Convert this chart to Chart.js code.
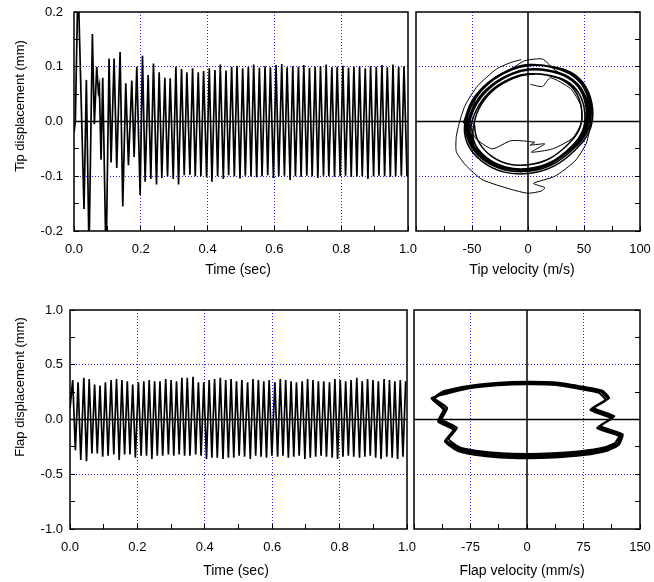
<!DOCTYPE html>
<html>
<head>
<meta charset="utf-8">
<script src="https://cdn.jsdelivr.net/npm/chart.js@4.4.0/dist/chart.umd.min.js"></script>
<style>
  html, body { margin: 0; padding: 0; background: #fff; }
  #wrap { position: relative; width: 654px; height: 582px; }
  #wrap canvas { position: absolute; left: 0; top: 0; }
</style>
</head>
<body>
<div id="wrap">
  <canvas id="tipTimeChart" width="654" height="582"></canvas>
  <canvas id="tipPhaseChart" width="654" height="582"></canvas>
  <canvas id="flapTimeChart" width="654" height="582"></canvas>
  <canvas id="flapPhaseChart" width="654" height="582"></canvas>
</div>
<script>
// tick labels (every second tick is labelled)
const timeTicks = ['0.0', '0.2', '0.4', '0.6', '0.8', '1.0'];
const tipDispTicks = ['-0.2', '-0.1', '0.0', '0.1', '0.2'];
const tipVelTicks = ['', '-50', '0', '50', '100'];
const flapDispTicks = ['-1.0', '-0.5', '0.0', '0.5', '1.0'];
const flapVelTicks = ['', '-75', '0', '75', '150'];

// tip displacement vs time (peaks / troughs)
const tipTime = [
  0.000, 0.004, 0.012, 0.030, 0.037, 0.045, 0.055, 0.061, 0.068, 0.073,
  0.076, 0.081, 0.086, 0.096, 0.105, 0.111, 0.120, 0.128, 0.138, 0.146,
  0.155, 0.163, 0.173, 0.180, 0.188, 0.198,
  0.205, 0.213, 0.222, 0.230, 0.238, 0.247, 0.255, 0.263, 0.272, 0.280,
  0.288, 0.297, 0.305, 0.313, 0.322, 0.330, 0.338, 0.347, 0.355, 0.363,
  0.372, 0.380, 0.388, 0.397, 0.405, 0.413, 0.422, 0.430, 0.438, 0.447,
  0.455, 0.463, 0.472, 0.480, 0.488, 0.497, 0.505, 0.513, 0.522, 0.530,
  0.538, 0.547, 0.555, 0.563, 0.572, 0.580, 0.588, 0.597, 0.605, 0.613,
  0.622, 0.630, 0.638, 0.647, 0.655, 0.663, 0.672, 0.680, 0.688, 0.697,
  0.705, 0.713, 0.722, 0.730, 0.738, 0.747, 0.755, 0.763, 0.772, 0.780,
  0.788, 0.797, 0.805, 0.813, 0.822, 0.830, 0.838, 0.847, 0.855, 0.863,
  0.872, 0.880, 0.888, 0.897, 0.905, 0.913, 0.922, 0.930, 0.938, 0.947,
  0.955, 0.963, 0.972, 0.980, 0.988, 0.997
];
const tipDisp = [
  -0.02, 0.00, 0.26, -0.16, 0.076, -0.24, 0.16, -0.005, 0.10, 0.055,
  0.065, -0.07, 0.08, -0.26, 0.115, -0.075, 0.115, -0.085, 0.127, -0.155,
  0.07, -0.08, 0.075, -0.065, 0.10, -0.134,
  0.120, -0.110, 0.085, -0.105, 0.106, -0.115, 0.090, -0.103, 0.080, -0.100,
  0.079, -0.105, 0.100, -0.115, 0.096, -0.098, 0.090, -0.097, 0.097, -0.100,
  0.090, -0.100, 0.092, -0.102, 0.097, -0.110, 0.094, -0.100, 0.104, -0.105,
  0.093, -0.098, 0.100, -0.100, 0.102, -0.104, 0.097, -0.099, 0.100, -0.100,
  0.104, -0.102, 0.098, -0.100, 0.101, -0.098, 0.099, -0.103, 0.103, -0.100,
  0.105, -0.099, 0.099, -0.107, 0.101, -0.100, 0.100, -0.101, 0.103, -0.099,
  0.098, -0.100, 0.100, -0.103, 0.101, -0.099, 0.104, -0.100, 0.099, -0.101,
  0.100, -0.100, 0.102, -0.099, 0.098, -0.101, 0.100, -0.100, 0.101, -0.100,
  0.097, -0.105, 0.101, -0.100, 0.100, -0.099, 0.103, -0.100, 0.099, -0.101,
  0.104, -0.100, 0.100, -0.099, 0.101, -0.100
];

// flap displacement vs time
const flapTime = [
  0.000, 0.008, 0.016, 0.024, 0.032, 0.041, 0.049, 0.057, 0.065, 0.073,
  0.081, 0.089, 0.097, 0.105, 0.113, 0.122, 0.130, 0.138, 0.146, 0.154,
  0.162, 0.170, 0.178, 0.186, 0.194, 0.203, 0.211, 0.219, 0.227, 0.235,
  0.243, 0.251, 0.259, 0.267, 0.275, 0.284, 0.292, 0.300, 0.308, 0.316,
  0.324, 0.332, 0.340, 0.348, 0.356, 0.365, 0.373, 0.381, 0.389, 0.397,
  0.405, 0.413, 0.421, 0.429, 0.437, 0.446, 0.454, 0.462, 0.470, 0.478,
  0.486, 0.494, 0.502, 0.510, 0.518, 0.527, 0.535, 0.543, 0.551, 0.559,
  0.567, 0.575, 0.583, 0.591, 0.599, 0.608, 0.616, 0.624, 0.632, 0.640,
  0.648, 0.656, 0.664, 0.672, 0.680, 0.689, 0.697, 0.705, 0.713, 0.721,
  0.729, 0.737, 0.745, 0.753, 0.761, 0.770, 0.778, 0.786, 0.794, 0.802,
  0.810, 0.818, 0.826, 0.834, 0.842, 0.851, 0.859, 0.867, 0.875, 0.883,
  0.891, 0.899, 0.907, 0.915, 0.923, 0.932, 0.940, 0.948, 0.956, 0.964,
  0.972, 0.980, 0.988, 0.996
];
const flapDisp = [
  0.10,
  0.36, -0.28, 0.34, -0.37, 0.38, -0.38, 0.37, -0.31, 0.32, -0.31,
  0.31, -0.34, 0.34, -0.33, 0.36, -0.32, 0.37, -0.37, 0.36, -0.32,
  0.35, -0.32, 0.32, -0.35, 0.34, -0.33, 0.35, -0.33, 0.36, -0.36,
  0.35, -0.33, 0.35, -0.33, 0.37, -0.32, 0.36, -0.33, 0.35, -0.32,
  0.38, -0.33, 0.38, -0.33, 0.39, -0.32, 0.34, -0.33, 0.34, -0.36,
  0.36, -0.35, 0.37, -0.35, 0.38, -0.36, 0.36, -0.35, 0.37, -0.35,
  0.35, -0.33, 0.36, -0.34, 0.34, -0.36, 0.37, -0.33, 0.36, -0.34,
  0.35, -0.35, 0.36, -0.33, 0.34, -0.34, 0.37, -0.33, 0.36, -0.35,
  0.35, -0.34, 0.34, -0.33, 0.35, -0.36, 0.37, -0.35, 0.36, -0.34,
  0.35, -0.33, 0.35, -0.34, 0.34, -0.35, 0.37, -0.36, 0.36, -0.34,
  0.35, -0.33, 0.36, -0.34, 0.38, -0.35, 0.35, -0.34, 0.37, -0.33,
  0.36, -0.35, 0.35, -0.36, 0.37, -0.34, 0.36, -0.35, 0.35, -0.36,
  0.36, -0.34,
  0.35
];

// tip phase plane: settled loops (velocity m/s, displacement mm)
const tipLoopVel = [
  -57.7, -49.7, -35.1, -15.8, 0.3, 19.7, 38.9, 51.8, 57.7, 55.1, 42.1, 22.7, 0.3, -22.2, -41.6, -54.4,
  -56.3, -48.5, -34.3, -15.4, 0.3, 19.2, 38.0, 50.6, 56.3, 53.8, 41.1, 22.2, 0.3, -21.7, -40.6, -53.2,
  -55.0, -47.4, -33.5, -15.0, 0.3, 18.7, 37.1, 49.4, 55.0, 52.5, 40.2, 21.6, 0.3, -21.2, -39.7, -51.9,
  -54.2, -46.7, -33.0, -14.8, 0.3, 18.5, 36.5, 48.7, 54.2, 51.8, 39.6, 21.3, 0.3, -20.9, -39.1, -51.2,
  -53.4, -46.0, -32.5, -14.6, 0.3, 18.2, 36.0, 48.0, 53.4, 51.0, 39.0, 21.0, 0.3, -20.6, -38.5, -50.4,
  -52.1, -44.9, -31.7, -14.2, 0.3, 17.7, 35.1, 46.8, 52.1, 49.7, 38.0, 20.5, 0.3, -20.1, -37.5, -49.1,
  -50.7, -43.7, -30.9, -13.9, 0.3, 17.3, 34.2, 45.6, 50.7, 48.5, 37.1, 20.0, 0.3, -19.6, -36.6, -47.9,
  -48.1, -41.4, -29.3, -13.1, 0.3, 16.4, 32.4, 43.2, 48.1, 45.9, 35.1, 18.9, 0.3, -18.5, -34.7, -45.4,
  -48.1
];
const tipLoopDisp = [
  -0.003, 0.039, 0.072, 0.095, 0.104, 0.101, 0.089, 0.063, 0.023, -0.016, -0.052, -0.082, -0.095, -0.092, -0.072, -0.039,
  -0.001, 0.040, 0.073, 0.095, 0.103, 0.101, 0.089, 0.063, 0.024, -0.014, -0.049, -0.078, -0.091, -0.088, -0.069, -0.036,
  0.000, 0.040, 0.072, 0.094, 0.102, 0.100, 0.087, 0.063, 0.025, -0.012, -0.046, -0.075, -0.088, -0.085, -0.066, -0.034,
  -0.005, 0.035, 0.066, 0.087, 0.095, 0.093, 0.081, 0.057, 0.019, -0.017, -0.051, -0.079, -0.091, -0.088, -0.070, -0.039,
  -0.003, 0.036, 0.067, 0.088, 0.096, 0.094, 0.082, 0.058, 0.021, -0.015, -0.048, -0.076, -0.088, -0.085, -0.067, -0.036,
  -0.003, 0.035, 0.065, 0.086, 0.094, 0.092, 0.080, 0.057, 0.020, -0.015, -0.047, -0.074, -0.086, -0.083, -0.065, -0.035,
  -0.007, 0.030, 0.060, 0.080, 0.087, 0.085, 0.074, 0.051, 0.016, -0.018, -0.050, -0.076, -0.088, -0.085, -0.068, -0.038,
  -0.003, 0.032, 0.060, 0.079, 0.086, 0.085, 0.074, 0.052, 0.019, -0.014, -0.043, -0.068, -0.079, -0.077, -0.060, -0.032,
  -0.003
];
// tip phase plane: start-up transient
const tipTransVel = [
  -6, -15, -28, -45, -56, -61, -64, -64, -56, -41,
  -15, 0, 12, 15, 5, 24, 42, 52, 56, 53,
  42, 24, 13, -3, -12, -30, -45, -52, -47, -32,
  -15, 6, 2, 15, 3, 22, 40, 48, 47, 38,
  20, 13, 2
];
const tipTransDisp = [
  0.113, 0.108, 0.096, 0.065, 0.030, 0.000, -0.027, -0.055, -0.079, -0.106,
  -0.124, -0.131, -0.127, -0.121, -0.113, -0.100, -0.072, -0.040, 0.000, 0.040,
  0.072, 0.094, 0.114, 0.111, 0.100, 0.080, 0.050, 0.000, -0.030, -0.050,
  -0.035, -0.038, -0.043, -0.041, -0.056, -0.050, -0.030, 0.000, 0.030, 0.060,
  0.080, 0.064, 0.068
];

// flap phase plane (velocity mm/s, displacement mm), four traced loops
const flapLoopVel = [
  -124.6, -110, -80, -40, 0, 40, 75, 98, 106.8, 86.8, 113.5, 95.7, 124.6, 120, 104.6, 73.4, 35, 0, -35, -70, -91, -106.8, -95.7, -115.7, -109, -124.6,
  -112, -82, -42, 0, 42, 77, 100, 109, 89, 116, 98, 127, 122, 106, 75, 36, 0, -36, -72, -93, -109, -98, -118, -111, -127,
  -107, -78, -39, 0, 39, 73, 95, 104, 84, 111, 93, 122, 117, 102, 71, 34, 0, -34, -68, -89, -104, -93, -113, -106, -121,
  -126, -111, -81, -41, 0, 41, 76, 99, 108, 88, 115, 97, 126, 121, 105, 74, 35.5, 0, -35.5, -71, -92, -108, -97, -117, -110, -126
];
const flapLoopDisp = [
  0.188, 0.245, 0.292, 0.322, 0.333, 0.325, 0.285, 0.255, 0.188, 0.097, 0.021, -0.070, -0.145, -0.220, -0.267, -0.303, -0.322, -0.328, -0.322, -0.298, -0.267, -0.190, -0.085, -0.009, 0.097, 0.188,
  0.255, 0.302, 0.333, 0.345, 0.336, 0.296, 0.264, 0.195, 0.105, 0.030, -0.060, -0.135, -0.230, -0.285, -0.325, -0.348, -0.355, -0.348, -0.320, -0.285, -0.200, -0.095, -0.018, 0.090, 0.195,
  0.236, 0.283, 0.312, 0.322, 0.315, 0.276, 0.246, 0.180, 0.088, 0.012, -0.078, -0.152, -0.212, -0.256, -0.290, -0.308, -0.314, -0.308, -0.285, -0.256, -0.180, -0.076, 0.000, 0.105, 0.180,
  0.190, 0.250, 0.297, 0.328, 0.339, 0.330, 0.290, 0.260, 0.190, 0.100, 0.025, -0.065, -0.140, -0.225, -0.276, -0.314, -0.335, -0.342, -0.335, -0.310, -0.276, -0.195, -0.090, -0.013, 0.093, 0.190
];

Chart.defaults.font.family = "'Liberation Sans', Arial, Helvetica, sans-serif";
Chart.defaults.font.size = 13;
Chart.defaults.color = '#000';

const W = 654, H = 582;
const XH = 30, RW = 10;
const GRID_BLUE = 'rgba(0, 0, 255, 0.85)';

const pts = (xs, ys) => xs.map((x, i) => ({ x, y: ys[i] }));
const near = (a, b) => Math.abs(a - b) < 1e-9;

// frame, black zero lines and axis titles
const decoPlugin = {
  id: 'deco',
  afterDatasetsDraw(chart, args, o) {
    const { ctx, chartArea: a, scales } = chart;
    ctx.save();
    ctx.strokeStyle = '#000';
    ctx.lineWidth = 1.5;
    ctx.beginPath();
    const y0 = scales.y.getPixelForValue(0);
    ctx.moveTo(a.left, y0);
    ctx.lineTo(a.right, y0);
    if (o.zeroV) {
      const x0 = scales.x.getPixelForValue(0);
      ctx.moveTo(x0, a.top);
      ctx.lineTo(x0, a.bottom);
    }
    ctx.stroke();
    ctx.strokeRect(a.left, a.top, a.right - a.left, a.bottom - a.top);

    ctx.fillStyle = '#000';
    ctx.textAlign = 'center';
    ctx.textBaseline = 'middle';
    ctx.font = "14px 'Liberation Sans', Arial, sans-serif";
    ctx.fillText(o.xTitle, o.xt[0], o.xt[1]);
    if (o.yTitle) {
      ctx.font = "13px 'Liberation Sans', Arial, sans-serif";
      ctx.translate(o.yt[0], o.yt[1]);
      ctx.rotate(-Math.PI / 2);
      ctx.fillText(o.yTitle, 0, 0);
    }
    ctx.restore();
  }
};

function linAxis(a, position, size) {
  return {
    type: 'linear',
    position,
    min: a.min,
    max: a.max,
    ticks: {
      stepSize: a.step,
      autoSkip: false,
      maxRotation: 0,
      minRotation: 0,
      display: !!a.labels,
      padding: a.pad || 0,
      callback: (v, i) => (a.labels && i % 2 === 0) ? a.labels[i / 2] : ''
    },
    grid: {
      color: c => {
        const v = c.tick ? c.tick.value : 0;
        if (c.index % 2 !== 0 || near(v, 0) || near(v, a.min) || near(v, a.max)) return 'transparent';
        return GRID_BLUE;
      },
      lineWidth: 1,
      tickLength: -5,
      tickColor: '#000',
      tickWidth: 1
    },
    border: { display: false, dash: [1, 2] },
    afterFit: s => {
      if (s.isHorizontal()) s.height = size; else s.width = size;
      s.paddingLeft = s.paddingRight = s.paddingTop = s.paddingBottom = 0;
    }
  };
}

function line(data, width, tension) {
  return { data, showLine: true, borderColor: '#000', borderWidth: width, pointRadius: 0, fill: false, tension };
}

function panel(id, box, xa, ya, yPos, datasets, deco) {
  new Chart(document.getElementById(id), {
    type: 'scatter',
    data: { datasets },
    options: {
      responsive: false,
      animation: false,
      events: [],
      layout: {
        padding: {
          left: yPos === 'left' ? 0 : box.l,
          right: W - box.r - (yPos === 'right' ? RW : 0),
          top: box.t,
          bottom: H - box.b - XH
        }
      },
      scales: {
        x: linAxis(xa, 'bottom', XH),
        y: linAxis(ya, yPos, yPos === 'left' ? box.l : RW)
      },
      plugins: { legend: { display: false }, tooltip: { enabled: false }, deco }
    },
    plugins: [decoPlugin]
  });
}

panel('tipTimeChart', { l: 74, t: 12, r: 408, b: 231 },
  { min: 0, max: 1, step: 0.1, labels: timeTicks, pad: 16 },
  { min: -0.2, max: 0.2, step: 0.05, labels: tipDispTicks, pad: 16 },
  'left',
  [line(pts(tipTime, tipDisp), 1.7, 0)],
  { zeroV: false, xTitle: 'Time (sec)', xt: [238, 270], yTitle: 'Tip displacement (mm)', yt: [20, 106] });

panel('tipPhaseChart', { l: 416, t: 12, r: 640, b: 231 },
  { min: -100, max: 100, step: 25, labels: tipVelTicks, pad: 16 },
  { min: -0.2, max: 0.2, step: 0.05 },
  'right',
  [line(pts(tipLoopVel, tipLoopDisp), 1.5, 0.4), line(pts(tipTransVel, tipTransDisp), 1, 0.2)],
  { zeroV: true, xTitle: 'Tip velocity (m/s)', xt: [522, 270] });

panel('flapTimeChart', { l: 70, t: 310, r: 407, b: 529 },
  { min: 0, max: 1, step: 0.1, labels: timeTicks, pad: 16 },
  { min: -1, max: 1, step: 0.25, labels: flapDispTicks, pad: 12 },
  'left',
  [line(pts(flapTime, flapDisp), 1.7, 0)],
  { zeroV: false, xTitle: 'Time (sec)', xt: [236, 571], yTitle: 'Flap displacement (mm)', yt: [20, 387] });

panel('flapPhaseChart', { l: 414, t: 310, r: 640, b: 529 },
  { min: -150, max: 150, step: 37.5, labels: flapVelTicks, pad: 16 },
  { min: -1, max: 1, step: 0.25 },
  'right',
  [line(pts(flapLoopVel, flapLoopDisp), 2, 0.15)],
  { zeroV: true, xTitle: 'Flap velocity (mm/s)', xt: [522, 571] });
</script>
</body>
</html>
